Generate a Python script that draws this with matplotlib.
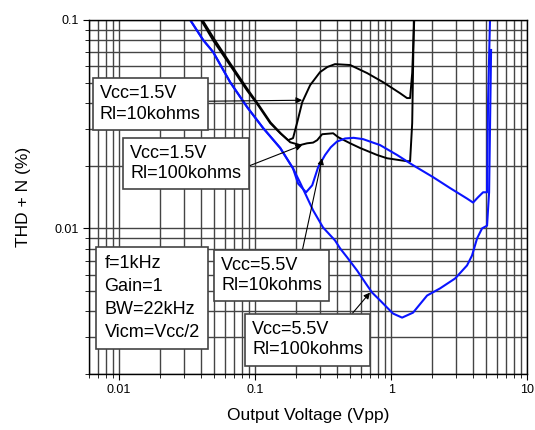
import numpy as np
import matplotlib.pyplot as plt
from matplotlib.ticker import NullFormatter, FuncFormatter

plt.rcParams['font.family'] = ['Liberation Sans', 'DejaVu Sans']

# Vcc=1.5V, Rl=10kohms
x_15_10k = [0.040, 0.049, 0.065, 0.087, 0.105, 0.129, 0.153, 0.175, 0.19, 0.204,
            0.222, 0.254, 0.30, 0.34, 0.387, 0.50, 0.667, 0.873, 1.16, 1.31, 1.38, 1.43, 1.48]
y_15_10k = [0.100, 0.080, 0.061, 0.046, 0.039, 0.032, 0.0286, 0.0265, 0.0271, 0.0323,
            0.0403, 0.0487, 0.0562, 0.0595, 0.0614, 0.0608, 0.0556, 0.0503, 0.0446, 0.0422, 0.0422, 0.0556, 0.100]

# Vcc=1.5V, Rl=100kohms
x_15_100k = [0.041, 0.050, 0.066, 0.088, 0.106, 0.130, 0.155, 0.181, 0.214, 0.241, 0.267,
             0.286, 0.311, 0.375, 0.408, 0.50, 0.592, 0.789, 0.934, 1.31, 1.38, 1.43, 1.47]
y_15_100k = [0.100, 0.081, 0.0615, 0.0465, 0.0392, 0.0322, 0.0285, 0.0259, 0.0251, 0.0256, 0.0258,
             0.0265, 0.0283, 0.0286, 0.0274, 0.0256, 0.0243, 0.0225, 0.0217, 0.0210, 0.0210, 0.032, 0.100]

# Vcc=5.5V, Rl=10kohms
x_55_10k = [0.0333, 0.0415, 0.0491, 0.0655, 0.0873, 0.1145, 0.153, 0.190, 0.207, 0.237, 0.263,
            0.291, 0.327, 0.36, 0.40, 0.459, 0.53, 0.623, 0.830, 1.107, 1.45, 2.04, 2.72, 3.62, 4.01,
            4.36, 4.75, 5.08, 5.17, 5.34]
y_55_10k = [0.100, 0.0801, 0.0702, 0.0503, 0.0382, 0.0303, 0.0243, 0.0194, 0.0164, 0.0149, 0.0161,
            0.0197, 0.0225, 0.0245, 0.0261, 0.0270, 0.0272, 0.0268, 0.0251, 0.0225, 0.0201, 0.0176, 0.0156, 0.0139, 0.0133,
            0.0141, 0.0149, 0.0149, 0.0412, 0.100]

# Vcc=5.5V, Rl=100kohms
x_55_100k = [0.0333, 0.0415, 0.0491, 0.0655, 0.0873, 0.1145, 0.153, 0.190, 0.214, 0.267, 0.316,
             0.387, 0.422, 0.475, 0.562, 0.667, 0.725, 0.830, 0.934, 1.035, 1.205, 1.45, 1.84,
             2.29, 2.96, 3.62, 3.94, 4.29, 4.67, 5.08, 5.26, 5.44]
y_55_100k = [0.100, 0.0801, 0.0702, 0.0503, 0.0382, 0.0303, 0.0243, 0.0194, 0.0166, 0.0122, 0.0101,
             0.00875, 0.00801, 0.00726, 0.00628, 0.00532, 0.00492, 0.00451, 0.00417, 0.0039, 0.00373, 0.00394, 0.00476,
             0.00515, 0.00575, 0.00664, 0.00741, 0.00895, 0.0100, 0.0103, 0.0149, 0.0718]

notes = ["Vcc=1.5V\nRl=10kohms", "Vcc=1.5V\nRl=100kohms", "Vcc=5.5V\nRl=10kohms",
         "Vcc=5.5V\nRl=100kohms"]
note_pos = [(0.140, 0.763), (0.221, 0.595), (0.417, 0.278), (0.499, 0.097)]
note_target = [(0.222, 0.0412), (0.222, 0.0251), (0.311, 0.0217), (0.70, 0.00492)]
note_rel = [(1, 0.57), (1, 0.35), (0.79, 1), (0.845, 1)]
cond_text = "f=1kHz\nGain=1\nBW=22kHz\nVicm=Vcc/2"

fig = plt.figure(figsize=(5.35, 4.30), dpi=100)
ax = fig.add_axes([0.1664, 0.1302, 0.8187, 0.8233])
ax.set_xscale('log')
ax.set_yscale('log')
ax.set_xlim(0.006, 10)
ax.set_ylim(0.002, 0.1)

ax.grid(True, which='both', color='#444444', lw=1.0)
ax.set_axisbelow(True)

ax.plot(x_15_10k, y_15_10k, color='black', lw=1.4)
ax.plot(x_15_100k, y_15_100k, color='black', lw=1.4)
ax.plot(x_55_10k, y_55_10k, color='#0a14ff', lw=1.5)
ax.plot(x_55_100k, y_55_100k, color='#0a14ff', lw=1.5)

fmt = FuncFormatter(lambda v, p: '%g' % v)
ax.xaxis.set_major_formatter(fmt)
ax.yaxis.set_major_formatter(fmt)
ax.xaxis.set_minor_formatter(NullFormatter())
ax.yaxis.set_minor_formatter(NullFormatter())
ax.tick_params(which='both', direction='out', labelsize=9, color='black')
ax.tick_params(which='major', length=4)
ax.tick_params(which='minor', length=3)
for s in ax.spines.values():
    s.set_color('black')
    s.set_linewidth(1.0)

ax.set_xlabel('Output Voltage (Vpp)', fontsize=12.5, labelpad=8)
ax.set_ylabel('THD + N (%)', fontsize=12.5, labelpad=17)

box = dict(boxstyle='square,pad=0.4', fc='white', ec='#444444', lw=1.2)
for t, p, tg, rp in zip(notes, note_pos, note_target, note_rel):
    ax.annotate(t, xy=tg, xycoords='data', xytext=p, textcoords='axes fraction',
                ha='center', va='center', multialignment='left', fontsize=13,
                linespacing=1.25, bbox=box,
                arrowprops=dict(arrowstyle='-|>', color='black', lw=0.8, mutation_scale=9,
                                shrinkA=0, shrinkB=0, relpos=rp))

ax.text(0.144, 0.215, cond_text, transform=ax.transAxes, ha='center', va='center',
        multialignment='left', fontsize=13, linespacing=1.45,
        bbox=dict(boxstyle='square,pad=0.45', fc='white', ec='#444444', lw=1.2))

plt.savefig('out.png', dpi=100)
